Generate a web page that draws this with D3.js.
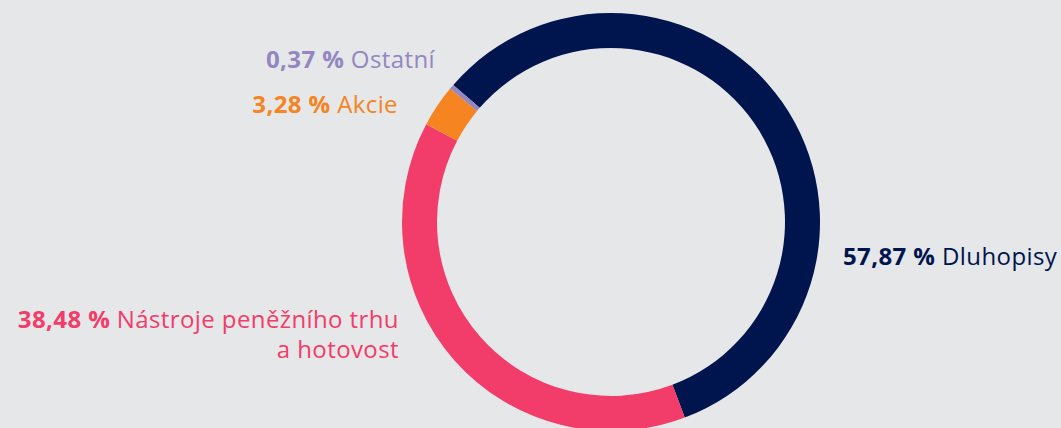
<!DOCTYPE html>
<html>
<head>
<meta charset="utf-8">
<script src="https://cdn.jsdelivr.net/npm/d3@7"></script>
<style>
  html, body { margin: 0; padding: 0; background: #e6e7e9; }
  svg { display: block; }
  text { font-family: "Open Sans", sans-serif; }
</style>
</head>
<body>
<div id="chart"></div>
<script>
// Data
var categories = ["Dluhopisy", "Nástroje peněžního trhu a hotovost", "Akcie", "Ostatní"];
var values = [57.87, 38.48, 3.28, 0.37];
var valueLabels = ["57,87 %", "38,48 %", "3,28 %", "0,37 %"];
var labelLines = [["Dluhopisy"], ["Nástroje peněžního trhu", "a hotovost"], ["Akcie"], ["Ostatní"]];
var colors = ["#00144d", "#f23c6a", "#f58421", "#9386c1"];

var width = 1061, height = 428;
var cx = 611, cy = 222;
var outerR = 209, innerR = 174;
var start = -49 * Math.PI / 180;

// label anchors (x, baseline y, anchor)
var labelPos = [
    { x: 843, y: 265, anchor: "start" },
    { x: 399, y: 328, anchor: "end" },
    { x: 398, y: 113, anchor: "end" },
    { x: 435, y: 68, anchor: "end" }
];

var data = categories.map((c, i) => ({ id: c, value: values[i], color: colors[i], num: valueLabels[i], lines: labelLines[i], pos: labelPos[i] }));

const svg = d3.select("#chart")
    .append("svg")
    .attr("width", width)
    .attr("height", height);

var pie = d3.pie()
    .sort(null)
    .value(d => d.value)
    .startAngle(start)
    .endAngle(start + 2 * Math.PI);

var arc = d3.arc()
    .innerRadius(innerR)
    .outerRadius(outerR);

svg.append("g")
    .attr("transform", `translate(${cx},${cy})`)
  .selectAll("path")
  .data(pie(data))
  .join("path")
    .attr("fill", d => d.data.color)
    .attr("d", arc);

// Labels
var labels = svg.append("g")
  .selectAll("text")
  .data(data)
  .join("text")
    .attr("x", d => d.pos.x)
    .attr("y", d => d.pos.y)
    .attr("text-anchor", d => d.pos.anchor)
    .attr("fill", d => d.color)
    .style("font-size", "24px")
    .style("letter-spacing", "0.4px");

labels.each(function (d) {
    var t = d3.select(this);
    d.lines.forEach((line, i) => {
        if (i === 0) {
            t.append("tspan").style("font-weight", 700).text(d.num + " ");
            t.append("tspan").text(line);
        } else {
            t.append("tspan").attr("x", d.pos.x).attr("dy", 30).text(line);
        }
    });
});
</script>
</body>
</html>
